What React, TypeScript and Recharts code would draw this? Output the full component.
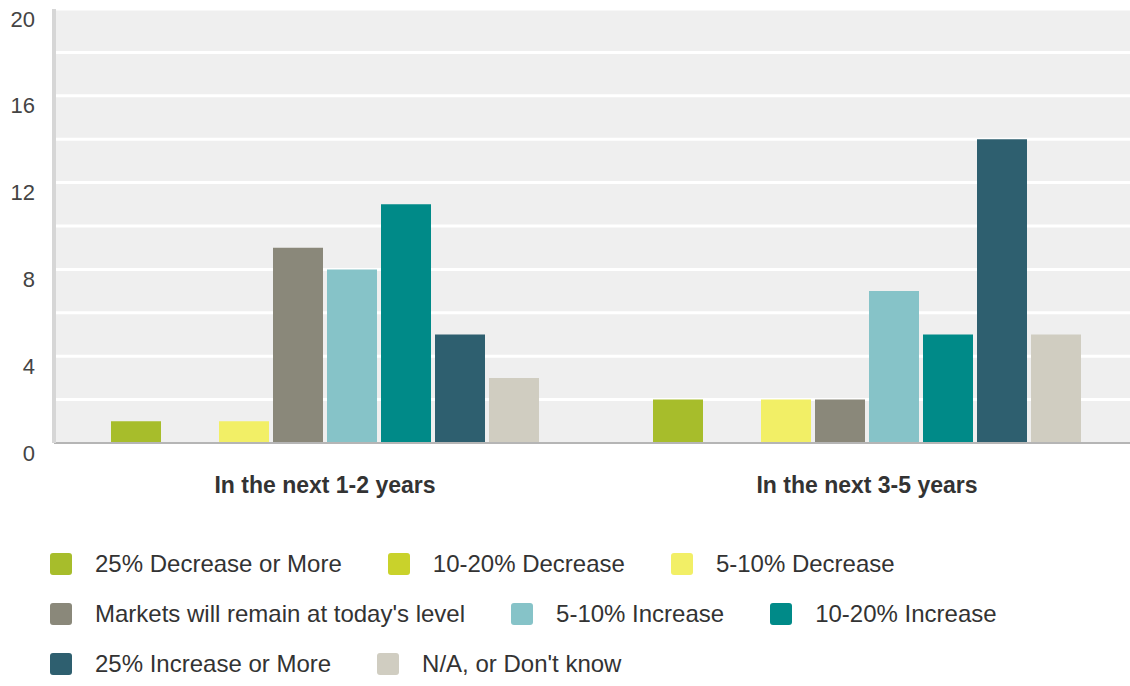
import React from 'react';
import { BarChart, Bar, XAxis, YAxis, CartesianGrid } from 'recharts';

const categories = ['In the next 1-2 years', 'In the next 3-5 years'];

const seriesNames = [
  '25% Decrease or More',
  '10-20% Decrease',
  '5-10% Decrease',
  "Markets will remain at today's level",
  '5-10% Increase',
  '10-20% Increase',
  '25% Increase or More',
  "N/A, or Don't know",
];

const seriesColors = ['#a7bd2b', '#c9d22b', '#f2ef66', '#8a887a', '#86c3c8', '#008a88', '#2e5f6f', '#d0cdc1'];

const decrease25 = [1, 2];
const decrease10to20 = [0, 0];
const decrease5to10 = [1, 2];
const remainSame = [9, 2];
const increase5to10 = [8, 7];
const increase10to20 = [11, 5];
const increase25 = [5, 14];
const dontKnow = [3, 5];

const seriesValues = [decrease25, decrease10to20, decrease5to10, remainSame, increase5to10, increase10to20, increase25, dontKnow];

const yTicks = [0, 4, 8, 12, 16, 20];
const gridValues = [2, 4, 6, 8, 10, 12, 14, 16, 18, 20];

const data = categories.map((name, i) => {
  const row: Record<string, string | number> = { name };
  seriesNames.forEach((s, j) => {
    row[s] = seriesValues[j][i];
  });
  return row;
});

const FONT = '"Liberation Sans", Arial, sans-serif';

const YTick = ({ x, y, payload }: any) => (
  <text x={x} y={y + 10} textAnchor="end" dominantBaseline="central" fontSize={22} fill="#444" fontFamily={FONT}>
    {payload.value}
  </text>
);

const XTick = ({ x, y, payload }: any) => (
  <text x={x} y={y} textAnchor="middle" dominantBaseline="central" fontSize={23} fontWeight="bold" fill="#333" fontFamily={FONT}>
    {payload.value}
  </text>
);

export default function App() {
  return (
    <div style={{ position: 'absolute', left: 0, top: 0, width: 1130, height: 686, overflow: 'hidden', background: '#fff', fontFamily: FONT }}>
      {/* plot runs a bit past the right edge, like the original */}
      <BarChart
        width={1138}
        height={686}
        data={data}
        margin={{ top: 9, right: 0, left: 0, bottom: 183 }}
        barCategoryGap={57}
        barGap={4}
      >
        <CartesianGrid vertical={false} fill="#efefef" stroke="#ffffff" strokeWidth={3} horizontalValues={gridValues} />
        <XAxis
          dataKey="name"
          height={60}
          tickSize={0}
          tickMargin={42}
          tick={<XTick />}
          axisLine={{ stroke: '#b5b5b5', strokeWidth: 2 }}
        />
        <YAxis
          width={54}
          domain={[0, 20]}
          ticks={yTicks}
          tickSize={0}
          tickMargin={19}
          tick={<YTick />}
          axisLine={{ stroke: '#d6d6d6', strokeWidth: 4 }}
        />
        {seriesNames.map((s, j) => (
          <Bar key={s} dataKey={s} fill={seriesColors[j]} isAnimationActive={false} />
        ))}
      </BarChart>
      <div
        style={{
          position: 'absolute',
          left: 50,
          top: 553,
          width: 1080,
          display: 'flex',
          flexWrap: 'wrap',
          columnGap: 46,
          rowGap: 28,
        }}
      >
        {seriesNames.map((s, j) => (
          <div key={s} style={{ display: 'flex', alignItems: 'center', height: 22 }}>
            <span style={{ width: 22, height: 22, borderRadius: 3, background: seriesColors[j], marginRight: 23 }} />
            <span style={{ fontSize: 24, color: '#333', whiteSpace: 'nowrap' }}>{s}</span>
          </div>
        ))}
      </div>
    </div>
  );
}
